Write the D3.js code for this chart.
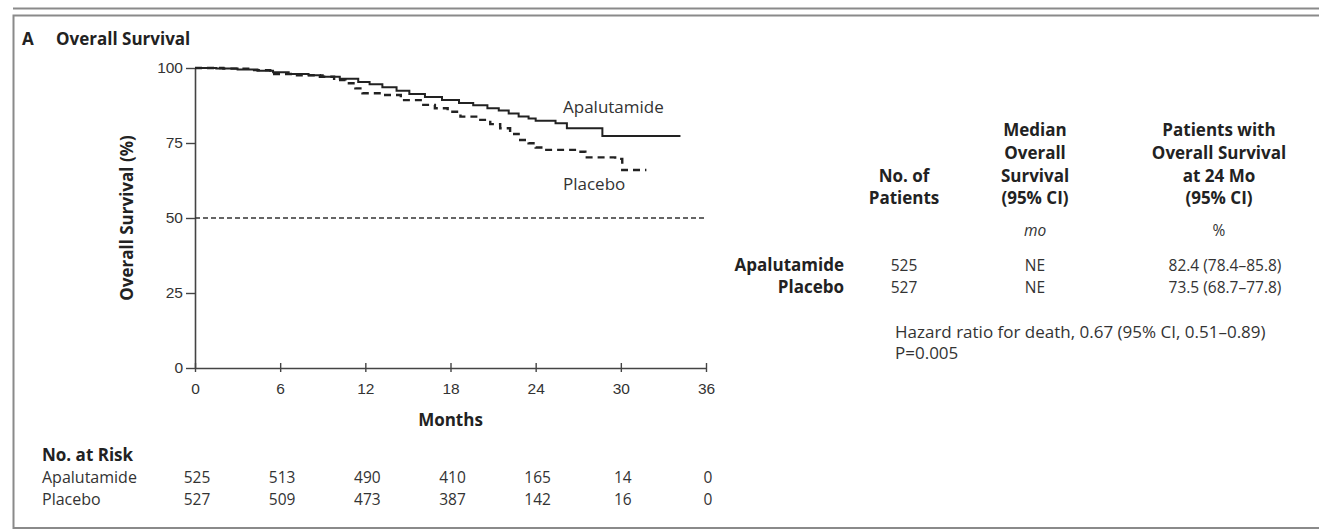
<!DOCTYPE html>
<html>
<head>
<meta charset="utf-8">
<script src="https://cdn.jsdelivr.net/npm/d3@7"></script>
<style>
  html, body { margin: 0; padding: 0; background: #fff; }
  svg { display: block; font-family: "Open Sans", "Noto Sans", sans-serif; }
  .txt { fill: #333; font-size: 17px; }
  .num { fill: #333; font-size: 15.5px; }
  .bold { font-weight: 700; fill: #222; }
</style>
</head>
<body>
<svg id="chart" width="1319" height="530"></svg>
<script>
// Kaplan–Meier overall survival, apalutamide vs placebo
const monthTicks = [0, 6, 12, 18, 24, 30, 36];
const survivalTicks = [0, 25, 50, 75, 100];

// Step points (month, % surviving)
const apaMonths = [0, 1.5, 3, 4.4, 5.5, 6.6, 8, 9, 10.2, 11.5, 12.3, 13.2, 14.2, 15.1, 16.2, 17.4, 18.6, 19.6, 20.6, 21.4, 22.1, 22.8, 23.5, 24, 25.4, 26.2, 28.7, 34.2];
const apaSurvival = [100, 99.8, 99.5, 99.1, 98.6, 98.0, 97.6, 97.1, 96.4, 95.3, 94.6, 93.6, 92.4, 91.3, 90.3, 89.3, 88.3, 87.6, 86.6, 85.8, 84.8, 83.8, 83.2, 82.4, 81.6, 79.9, 77.3, 77.3];
const plaMonths = [0, 2, 3.9, 5.3, 7, 8.8, 9.8, 10.6, 11.3, 11.8, 13.2, 14.5, 15.9, 16.9, 17.8, 18.7, 20.1, 20.8, 21.5, 22.2, 22.8, 23.5, 24, 24.5, 26.9, 27.5, 29.6, 30.1, 31.8];
const plaSurvival = [100, 99.8, 99.3, 98.0, 97.6, 97.1, 96.0, 94.9, 93.2, 91.6, 91.0, 89.3, 87.7, 86.6, 85.4, 83.8, 82.7, 81.3, 79.9, 78.0, 76.0, 74.9, 73.5, 72.7, 72.1, 70.2, 69.7, 66.0, 66.0];

// Summary table
const groups = ["Apalutamide", "Placebo"];
const nPatients = ["525", "527"];
const medianOS = ["NE", "NE"];
const os24 = ["82.4 (78.4\u201385.8)", "73.5 (68.7\u201377.8)"];

// Numbers at risk
const riskApa = [525, 513, 490, 410, 165, 14, 0];
const riskPla = [527, 509, 473, 387, 142, 16, 0];

const svg = d3.select("#chart");

// Panel frame
const frame = svg.append("g").attr("stroke", "#8a8a8a").attr("fill", "none").attr("stroke-width", 2);
frame.append("line").attr("x1", 13).attr("x2", 1330).attr("y1", 8.5).attr("y2", 8.5);
frame.append("path").attr("d", "M1330,15.5 H13.5 V528 H1330");

// Panel title
svg.append("text").attr("class", "txt bold").attr("x", 22).attr("y", 45).attr("font-size", 18).text("A");
svg.append("text").attr("class", "txt bold").attr("x", 56).attr("y", 45).text("Overall Survival");

const x = d3.scaleLinear().domain([0, 36]).range([195, 706]);
const y = d3.scaleLinear().domain([0, 100]).range([368, 68]);

// Y axis
const yAxis = svg.append("g").attr("transform", `translate(${x(0)},0)`)
  .call(d3.axisLeft(y).tickValues(survivalTicks).tickSize(9).tickSizeOuter(0).tickPadding(3));
yAxis.select(".domain").attr("stroke", "#444").attr("stroke-width", 1.6);
yAxis.selectAll(".tick line").attr("stroke", "#444").attr("stroke-width", 1.4);
yAxis.selectAll(".tick text").attr("class", "num").attr("font-size", null).attr("font-family", null);

// X axis with ticks crossing the line
const xAxis = svg.append("g").attr("transform", `translate(0,${y(0)})`)
  .call(d3.axisBottom(x).tickValues(monthTicks).tickSizeOuter(0));
xAxis.select(".domain").attr("stroke", "#444").attr("stroke-width", 1.6);
xAxis.selectAll(".tick line").attr("y1", -5).attr("y2", 4).attr("stroke", "#444").attr("stroke-width", 1.4);
xAxis.selectAll(".tick text").attr("class", "num").attr("font-size", null).attr("font-family", null)
  .attr("y", 15);

// Axis titles
svg.append("text").attr("class", "txt bold")
  .attr("transform", `translate(133,${y(50)}) rotate(-90)`).attr("text-anchor", "middle")
  .text("Overall Survival (%)");
svg.append("text").attr("class", "txt bold").attr("x", x(18)).attr("y", 426)
  .attr("text-anchor", "middle").text("Months");

// Median reference line
svg.append("line").attr("x1", x(0)).attr("x2", x(36)).attr("y1", y(50)).attr("y2", y(50))
  .attr("stroke", "#333").attr("stroke-width", 1.4).attr("stroke-dasharray", "5,3");

// Survival curves
const line = d3.line().x(d => x(d[0])).y(d => y(d[1])).curve(d3.curveStepAfter);
const apaData = apaMonths.map((m, i) => [m, apaSurvival[i]]);
const plaData = plaMonths.map((m, i) => [m, plaSurvival[i]]);

svg.append("path").datum(plaData).attr("d", line).attr("fill", "none")
  .attr("stroke", "#222").attr("stroke-width", 2.4).attr("stroke-dasharray", "7,5");
svg.append("path").datum(apaData).attr("d", line).attr("fill", "none")
  .attr("stroke", "#222").attr("stroke-width", 2);

// Curve labels
svg.append("text").attr("class", "txt").attr("x", 563).attr("y", 113).text("Apalutamide");
svg.append("text").attr("class", "txt").attr("x", 563).attr("y", 190).text("Placebo");

// Summary table
const col1 = 904, col2 = 1035, col3 = 1219;
const headerBase = [136, 159, 182, 204];
const head = svg.append("g").attr("class", "txt bold").attr("text-anchor", "middle");
["No. of", "Patients"].forEach((t, i) =>
  head.append("text").attr("x", col1).attr("y", headerBase[2 + i]).text(t));
["Median", "Overall", "Survival", "(95% CI)"].forEach((t, i) =>
  head.append("text").attr("x", col2).attr("y", headerBase[i]).text(t));
["Patients with", "Overall Survival", "at 24 Mo", "(95% CI)"].forEach((t, i) =>
  head.append("text").attr("x", col3).attr("y", headerBase[i]).text(t));

svg.append("text").attr("class", "num").attr("x", col2).attr("y", 236).attr("text-anchor", "middle")
  .attr("font-style", "italic").text("mo");
svg.append("text").attr("class", "num").attr("x", col3).attr("y", 236).attr("text-anchor", "middle").text("%");

const rowBase = [271, 293];
groups.forEach((g, i) => {
  svg.append("text").attr("class", "txt bold").attr("x", 844).attr("y", rowBase[i]).attr("text-anchor", "end").text(g);
  svg.append("text").attr("class", "num").attr("x", col1).attr("y", rowBase[i]).attr("text-anchor", "middle").text(nPatients[i]);
  svg.append("text").attr("class", "num").attr("x", col2).attr("y", rowBase[i]).attr("text-anchor", "middle").text(medianOS[i]);
  svg.append("text").attr("class", "num").attr("x", col3 + 6).attr("y", rowBase[i]).attr("text-anchor", "middle").text(os24[i]);
});

svg.append("text").attr("class", "txt").attr("x", 895).attr("y", 338)
  .text("Hazard ratio for death, 0.67 (95% CI, 0.51\u20130.89)");
svg.append("text").attr("class", "txt").attr("x", 895).attr("y", 359).text("P=0.005");

// Numbers at risk
svg.append("text").attr("class", "txt bold").attr("x", 42).attr("y", 461).text("No. at Risk");
[["Apalutamide", riskApa, 483], ["Placebo", riskPla, 505]].forEach(([name, vals, yy]) => {
  svg.append("text").attr("class", "txt").attr("font-size", 16).style("font-size", "16px")
    .attr("x", 42).attr("y", yy).text(name);
  svg.append("g").selectAll("text").data(vals).join("text")
    .attr("class", "num").attr("x", (d, i) => x(monthTicks[i]) + 2).attr("y", yy)
    .attr("text-anchor", "middle").text(d => d);
});
</script>
</body>
</html>
